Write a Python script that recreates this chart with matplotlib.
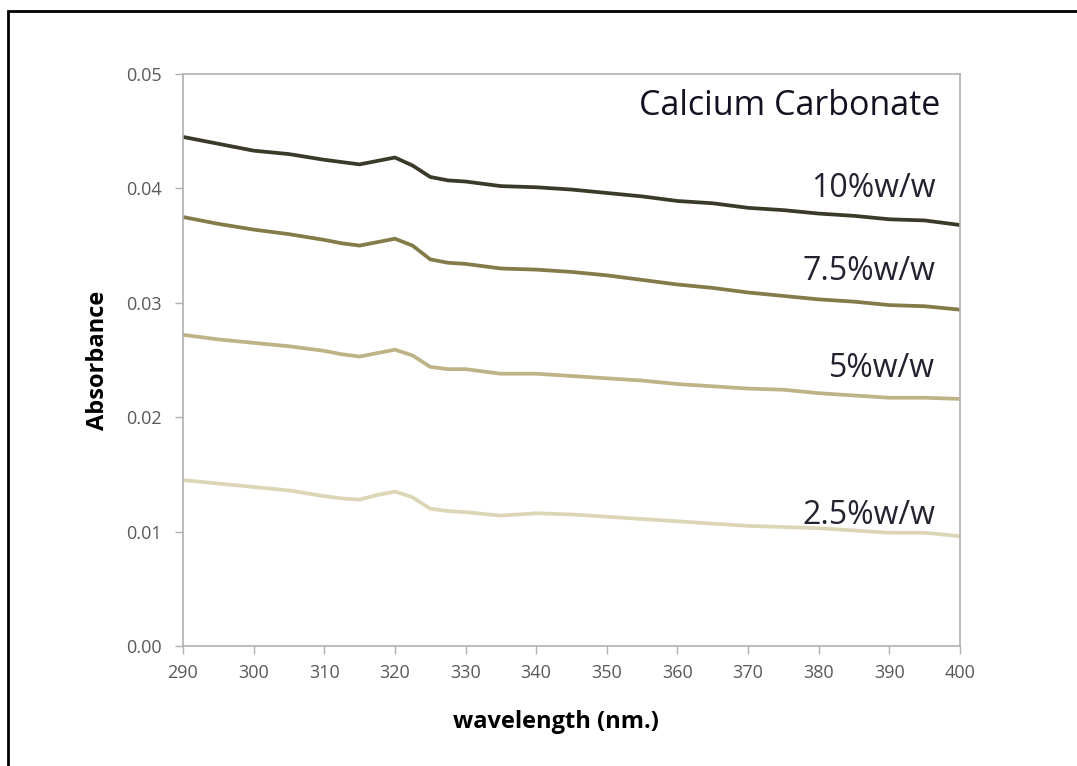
import matplotlib
matplotlib.use("Agg")
import matplotlib.pyplot as plt
from matplotlib.patches import Rectangle

# wavelength (nm) and absorbance
wavelength = [290, 295, 300, 305, 310, 312.5, 315, 317.5, 320, 322.5, 325, 327.5, 330,
              335, 340, 345, 350, 355, 360, 365, 370, 375, 380, 385, 390, 395, 400]
abs_10 = [.0445, .0439, .0433, .0430, .0425, .0423, .0421, .0424, .0427, .0420, .0410,
          .0407, .0406, .0402, .0401, .0399, .0396, .0393, .0389, .0387, .0383, .0381,
          .0378, .0376, .0373, .0372, .0368]
abs_75 = [.0375, .0369, .0364, .0360, .0355, .0352, .0350, .0353, .0356, .0350, .0338,
          .0335, .0334, .0330, .0329, .0327, .0324, .0320, .0316, .0313, .0309, .0306,
          .0303, .0301, .0298, .0297, .0294]
abs_5 = [.0272, .0268, .0265, .0262, .0258, .0255, .0253, .0256, .0259, .0254, .0244,
         .0242, .0242, .0238, .0238, .0236, .0234, .0232, .0229, .0227, .0225, .0224,
         .0221, .0219, .0217, .0217, .0216]
abs_25 = [.0145, .0142, .0139, .0136, .0131, .0129, .0128, .0132, .0135, .0130, .0120,
          .0118, .0117, .0114, .0116, .0115, .0113, .0111, .0109, .0107, .0105, .0104,
          .0103, .0101, .0099, .0099, .0096]

series = [
    (abs_10, "#3b3a28", "10%w/w", 0.0400),
    (abs_75, "#847b4a", "7.5%w/w", 0.0327),
    (abs_5, "#bdb387", "5%w/w", 0.0243),
    (abs_25, "#dcd5b6", "2.5%w/w", 0.01145),
]

plt.rcParams["font.family"] = ["Open Sans", "DejaVu Sans"]
fig = plt.figure(figsize=(10.77, 7.66), dpi=100)
ax = fig.add_axes([183 / 1077, 1 - 646 / 766, (960 - 183) / 1077, (646 - 74) / 766])

for vals, col, lab, ty in series:
    ax.plot(wavelength, vals, color=col, lw=2.7, solid_joinstyle="round",
            solid_capstyle="round")
    ax.text(396.5, ty, lab, ha="right", va="center", fontsize=23, color="#222230")

ax.text(397.2, 0.0472, "Calcium Carbonate", ha="right", va="center", fontsize=24.5,
        color="#111122")

ax.set_xlim(290, 400)
ax.set_ylim(0, 0.05)
ax.set_xticks(range(290, 401, 10))
ax.set_yticks([0, 0.01, 0.02, 0.03, 0.04, 0.05])
ax.set_yticklabels([f"{v:.2f}" for v in [0, 0.01, 0.02, 0.03, 0.04, 0.05]])
for s in ax.spines.values():
    s.set_color("#b0b0b0")
    s.set_linewidth(1.2)
ax.tick_params(colors="#b0b0b0", labelcolor="#595959", labelsize=13, length=6, width=1)
ax.tick_params(axis="x", pad=7)
ax.tick_params(axis="y", pad=9)
ax.set_xlabel("wavelength (nm.)", fontsize=17, fontweight="bold", labelpad=20)
ax.xaxis.label.set_x(0.48)
ax.set_ylabel("Absorbance", fontsize=17, fontweight="bold", labelpad=12)

# outer frame (top and left edges visible)
fig.patches.append(Rectangle((8 / 1077, -0.1), 1.2, 1 - 11 / 766 + 0.1,
                             transform=fig.transFigure, fill=False,
                             edgecolor="black", lw=2))

fig.savefig("out.png", dpi=100)
